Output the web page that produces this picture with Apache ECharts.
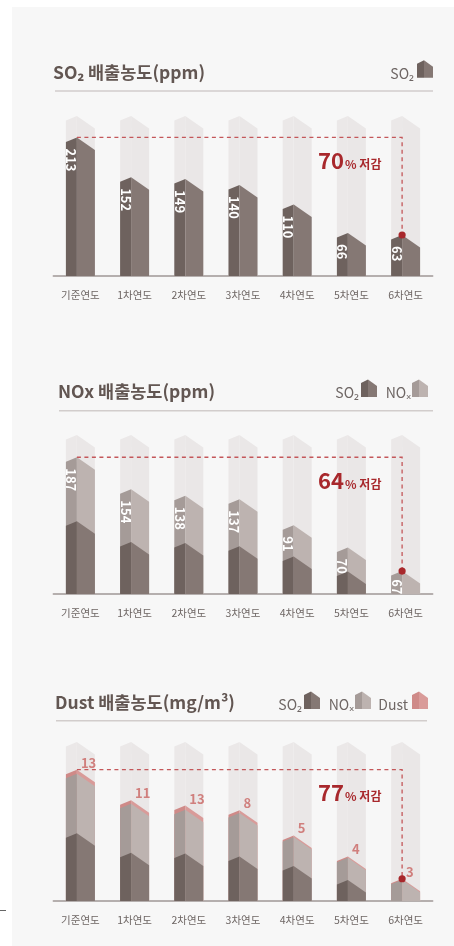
<!DOCTYPE html>
<html><head><meta charset="utf-8">
<script src="https://cdn.jsdelivr.net/npm/echarts@6/dist/echarts.min.js"></script>
<style>
html,body{margin:0;padding:0;background:#fff;}
#panel{position:absolute;left:12px;top:7px;width:442px;height:939px;background:#f7f7f7;}
#c{position:absolute;left:0;top:0;width:454px;height:946px;}
</style>
</head><body><div id="panel"></div><div id="c"></div>
<script>
// ---- data ----
const categories = ['기준연도','1차연도','2차연도','3차연도','4차연도','5차연도','6차연도'];
const so2Values  = [213,152,149,140,110,66,63];
const noxValues  = [187,154,138,137,91,70,67];
const dustValues = [13,11,13,8,5,4,3];
// base SO2 layer as drawn inside the NOx / Dust panels (6th year drawn without it)
const so2BaseInStacks = [213,152,149,140,110,66,0];
const reductionPct = [70,64,77];
const axisMax = [246,465,500];
const panelTitles = ['SO₂ 배출농도(ppm)','NOx 배출농도(ppm)','Dust 배출농도(mg/m³)'];

// ---- style / layout ----
const FONT = '"Noto Sans CJK KR","Noto Sans","DejaVu Sans",sans-serif';
const GRID_LEFT = 53.3, GRID_W = 379.4;
const gridTops = [116, 435, 742], gridHeights = [160, 159, 159];
const C = {
  ghostL:'#ebe8e8', ghostR:'#eae7e7',
  so2L:'#6e625e', so2R:'#857874',
  noxL:'#a59b98', noxR:'#bdb3b0',
  dustL:'#cf8a88', dustR:'#d99b99',
  red:'#a8282c', dash:'#c4575a', dustText:'#d07f7d',
  title:'#625652', legend:'#6e6664', axis:'#a09896', sep:'#d2cdcc', cat:'#6e6664'
};
const BAR_W = 29, FACE_L = 11, DROP_L = 4.5, DROP_R = 12.5;

function houseFaces(cx, peakY, baseY, colL, colR){
  const L = cx - 14.5, P = L + FACE_L, R = L + BAR_W;
  const yl = Math.min(peakY + DROP_L, baseY), yr = Math.min(peakY + DROP_R, baseY);
  return [
    {type:'polygon', shape:{points:[[L,yl],[P,peakY],[P,baseY],[L,baseY]]}, style:{fill:colL}},
    {type:'polygon', shape:{points:[[P,peakY],[R,yr],[R,baseY],[P,baseY]]}, style:{fill:colR}}
  ];
}
function sumArr(...arrs){ return arrs[0].map((_,i)=>arrs.reduce((s,a)=>s+a[i],0)); }

function layerSeries(k, tops, colL, colR){
  return {type:'custom', xAxisIndex:k, yAxisIndex:k, silent:true, clip:false,
    data: tops.map((v,i)=>[i,v]),
    renderItem(params, api){
      const v = api.value(1);
      if (!v) return null;
      const p = api.coord([api.value(0), v]);
      const b = api.coord([api.value(0), 0]);
      return {type:'group', children: houseFaces(p[0], p[1], b[1], colL, colR)};
    }};
}
function whiteLabelSeries(k, tops, labels){
  return {type:'custom', xAxisIndex:k, yAxisIndex:k, silent:true, clip:false,
    data: tops.map((v,i)=>[i,v,labels[i]]),
    renderItem(params, api){
      const i = api.value(0), v = api.value(1), txt = String(api.value(2));
      const p = api.coord([i, v]), b = api.coord([i, 0]);
      const len = txt.length * 7.4;
      let sy = p[1] + 11; if (sy + len > b[1]) sy = b[1] - len;
      return {type:'text', x: p[0] - 9, y: sy, rotation: -Math.PI/2,
        style:{text: txt, fill:'#fff', font:'bold 13px ' + FONT,
          align:'left', verticalAlign:'middle', textAlign:'left', textVerticalAlign:'middle'}};
    }};
}
function dustLabelSeries(k, tops, labels){
  return {type:'custom', xAxisIndex:k, yAxisIndex:k, silent:true, clip:false,
    data: tops.map((v,i)=>[i,v,labels[i]]),
    renderItem(params, api){
      const i = api.value(0), v = api.value(1), txt = String(api.value(2));
      const p = api.coord([i, v]);
      return {type:'text', x: p[0] + 0.5, y: p[1] - 7,
        style:{text: txt, fill: C.dustText, font:'bold 13px ' + FONT,
          align:'left', verticalAlign:'middle', textAlign:'left', textVerticalAlign:'middle'}};
    }};
}
function reductionSeries(k, tops, pct){
  return {type:'custom', xAxisIndex:k, yAxisIndex:k, silent:true, clip:false,
    data: [[0, tops[0], 6, tops[6], pct]],
    renderItem(params, api){
      const a = api.coord([api.value(0), api.value(1)]);
      const b = api.coord([api.value(2), api.value(3)]);
      const x0 = a[0] - 3.5, x1 = b[0] - 3.5;
      return {type:'group', children:[
        {type:'polyline', shape:{points:[[x0,a[1]],[x1,a[1]],[x1,b[1]]]},
          style:{stroke:C.dash, lineWidth:1.3, lineDash:[4,3.5], fill:null}},
        {type:'circle', shape:{cx:x1, cy:b[1], r:3.6}, style:{fill:C.red}},
        {type:'text', x: x1 - 84, y: a[1] + 34,
          style:{text:'{a|' + api.value(4) + '}{b|% 저감}', align:'left', verticalAlign:'bottom',
            textAlign:'left', textVerticalAlign:'bottom',
            rich:{a:{font:'bold 22px ' + FONT, fill:C.red, verticalAlign:'bottom'},
                  b:{font:'bold 12px ' + FONT, fill:C.red, verticalAlign:'bottom', padding:[0,0,1,1]}}}}
      ]};
    }};
}
function ghostSeries(k){
  return {type:'custom', xAxisIndex:k, yAxisIndex:k, silent:true, clip:false,
    data: categories.map((_,i)=>[i, axisMax[k]]),
    renderItem(params, api){
      const p = api.coord([api.value(0), api.value(1)]);
      const b = api.coord([api.value(0), 0]);
      return {type:'group', children: houseFaces(p[0], p[1], b[1], C.ghostL, C.ghostR)};
    }};
}

// stacks
const noxStack = sumArr(so2BaseInStacks, noxValues);
const dustStack = sumArr(so2BaseInStacks, noxValues, dustValues);

const series = [
  ghostSeries(0),
  layerSeries(0, so2Values, C.so2L, C.so2R),
  whiteLabelSeries(0, so2Values, so2Values),
  reductionSeries(0, so2Values, reductionPct[0]),

  ghostSeries(1),
  layerSeries(1, noxStack, C.noxL, C.noxR),
  layerSeries(1, so2BaseInStacks, C.so2L, C.so2R),
  whiteLabelSeries(1, noxStack, noxValues),
  reductionSeries(1, noxStack, reductionPct[1]),

  ghostSeries(2),
  layerSeries(2, dustStack, C.dustL, C.dustR),
  layerSeries(2, noxStack, C.noxL, C.noxR),
  layerSeries(2, so2BaseInStacks, C.so2L, C.so2R),
  dustLabelSeries(2, dustStack, dustValues),
  reductionSeries(2, dustStack, reductionPct[2])
];

const grid = [0,1,2].map(k=>({left:GRID_LEFT, width:GRID_W, top:gridTops[k], height:gridHeights[k]}));
const xAxis = [0,1,2].map(k=>({type:'category', gridIndex:k, data:categories,
  axisTick:{show:false}, axisLine:{lineStyle:{color:C.axis, width:1.5}},
  axisLabel:{color:C.cat, fontSize:10.5, fontFamily:FONT, margin:14}}));
const yAxis = [0,1,2].map(k=>({type:'value', gridIndex:k, min:0, max:axisMax[k], show:false}));

// ---- decorations (titles, separators, legends) ----
function txt(x, y, text, font, fill, align){
  return {type:'text', x, y, silent:true,
    style:{text, font, fill, align:align||'left', verticalAlign:'middle',
      textAlign:align||'left', textVerticalAlign:'middle'}};
}
function icon(x, bottom, colL, colR){
  const L = x, P = x + 7, R = x + 16, top = bottom - 17.5;
  return [
    {type:'polygon', silent:true, shape:{points:[[L,top+3.5],[P,top],[P,bottom],[L,bottom]]}, style:{fill:colL}},
    {type:'polygon', silent:true, shape:{points:[[P,top],[R,top+6.5],[R,bottom],[P,bottom]]}, style:{fill:colR}}
  ];
}
function sep(x1, x2, y){
  return {type:'line', silent:true, shape:{x1, y1:y, x2, y2:y}, style:{stroke:C.sep, lineWidth:1.5}};
}
const TF = 'bold 17.5px ' + FONT, LF = '14px ' + FONT;
const graphic = [
  txt(53, 72, panelTitles[0], TF, C.title),
  sep(55, 433, 91),
  txt(414, 73.5, 'SO₂', LF, C.legend, 'right'), ...icon(417, 77.7, C.so2L, C.so2R),

  txt(58, 391.5, panelTitles[1], TF, C.title),
  sep(59, 433, 410.7),
  txt(359, 393, 'SO₂', LF, C.legend, 'right'), ...icon(361, 397, C.so2L, C.so2R),
  txt(411, 393, 'NOₓ', LF, C.legend, 'right'), ...icon(412, 397, C.noxL, C.noxR),

  txt(55, 702, panelTitles[2], TF, C.title),
  sep(56, 427, 720.7),
  txt(302, 705, 'SO₂', LF, C.legend, 'right'), ...icon(304, 709, C.so2L, C.so2R),
  txt(354, 705, 'NOₓ', LF, C.legend, 'right'), ...icon(355, 709, C.noxL, C.noxR),
  txt(408, 705, 'Dust', LF, C.legend, 'right'), ...icon(412, 709, C.dustL, C.dustR),

  {type:'line', silent:true, shape:{x1:0, y1:910.5, x2:6, y2:910.5}, style:{stroke:'#666', lineWidth:1}}
];

const chart = echarts.init(document.getElementById('c'), null, {renderer:'canvas'});
chart.setOption({
  backgroundColor:'transparent',
  animation:false,
  grid, xAxis, yAxis, series, graphic
});
</script>
</body></html>
